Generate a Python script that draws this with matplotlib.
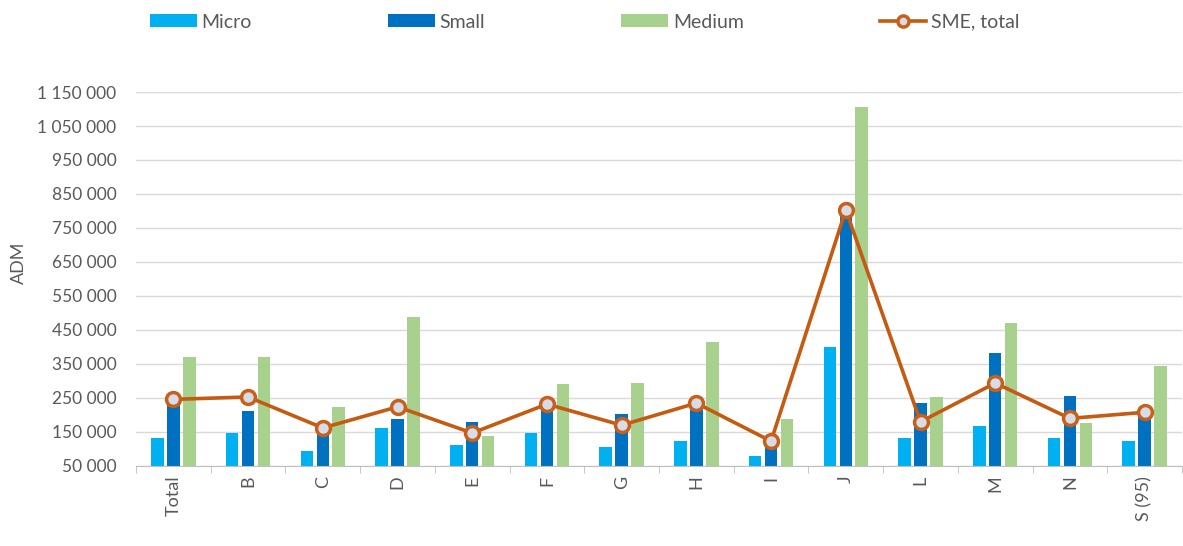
import numpy as np
from matplotlib import pyplot as plt
from matplotlib.ticker import FuncFormatter

plt.rcParams['font.family'] = ['Lato', 'DejaVu Sans']

categories = ["Total", "B", "C", "D", "E", "F", "G", "H", "I", "J", "L", "M", "N", "S (95)"]
micro = [131000, 147000, 93000, 162000, 113000, 147000, 105000, 124000, 80000, 400000, 131000, 168000, 131000, 123000]
small = [262000, 212000, 155000, 188000, 180000, 226000, 204000, 230000, 115000, 785000, 235000, 381000, 256000, 205000]
medium = [371000, 371000, 223000, 488000, 138000, 290000, 294000, 415000, 187000, 1105000, 252000, 472000, 177000, 343000]
sme_total = [246000, 253000, 162000, 224000, 147000, 232000, 170000, 235000, 123000, 803000, 180000, 294000, 190000, 208000]

text_color = "#595959"

fig = plt.figure(figsize=(11.83, 5.46), dpi=100)
ax = fig.add_axes([136 / 1183, 1 - 466 / 546, 1046 / 1183, 374 / 546])

x = np.arange(len(categories))
w = 0.167
off = 0.213
b1 = ax.bar(x - off, micro, width=w, color="#00B0F0", label="Micro", zorder=2)
b2 = ax.bar(x, small, width=w, color="#0070C0", label="Small", zorder=2)
b3 = ax.bar(x + off, medium, width=w, color="#A9D18E", label="Medium", zorder=2)
ln, = ax.plot(x, sme_total, color="#C55A11", lw=2.6, marker="o", markersize=10,
              markerfacecolor="#D6DCE8", markeredgecolor="#C8601A", markeredgewidth=2.5,
              label="SME, total", zorder=3)

ax.set_xlim(-0.5, len(categories) - 0.5)
ax.set_ylim(50000, 1150000)
ax.set_yticks(np.arange(50000, 1150001, 100000))
ax.yaxis.set_major_formatter(FuncFormatter(lambda v, p: "{:,.0f}".format(v).replace(",", " ")))
ax.grid(axis="y", color="#D9D9D9", lw=1, zorder=0)

for s in ["top", "right", "left"]:
    ax.spines[s].set_visible(False)
ax.spines["bottom"].set_color("#BFBFBF")

ax.set_xticks(x)
ax.set_xticklabels(categories, rotation=90, fontsize=13, color=text_color)
ax.set_xticks(np.arange(-0.5, len(categories), 1), minor=True)
ax.tick_params(axis="x", which="major", length=0, pad=7)
ax.tick_params(axis="x", which="minor", length=5, color="#BFBFBF")
ax.tick_params(axis="y", length=0, pad=14, labelsize=12.5, labelcolor=text_color)

fig.text(19 / 1183, 1 - 263 / 546, "ADM", rotation=90, ha="center", va="center",
         fontsize=13, color=text_color)

fig.legend(handles=[b1, b2, b3, ln], loc="center left", bbox_to_anchor=(150 / 1183, 1 - 22 / 546),
           ncol=4, frameon=False, fontsize=14, handlelength=2.4, handleheight=0.62,
           columnspacing=7.0, handletextpad=0.25, borderpad=0, borderaxespad=0,
           labelcolor=text_color, markerscale=0.8)

fig.savefig("out.png", dpi=100)
